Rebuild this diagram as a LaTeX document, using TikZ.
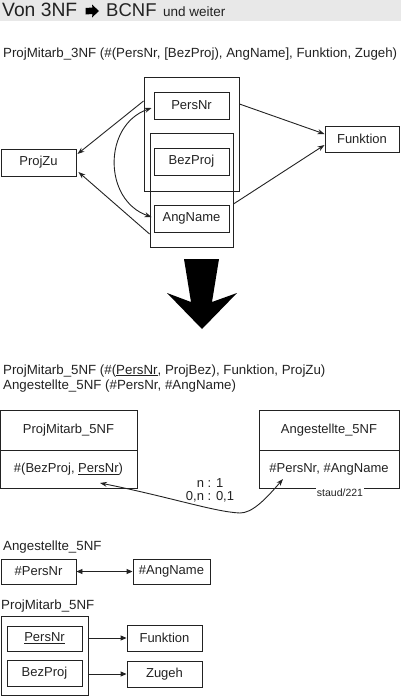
\documentclass[tikz,border=0pt]{standalone}
\usepackage{fontspec}
\setmainfont{Liberation Sans}
\usetikzlibrary{arrows.meta,calc}
\definecolor{ink}{HTML}{222222}
\begin{document}
\begin{tikzpicture}[x=1pt,y=-1pt,
  every node/.style={text=ink},
  txt/.style={font=\fontsize{13.3}{15}\selectfont, inner sep=0pt, anchor=base west},
  box/.style={draw=ink, line width=0.9pt, inner sep=0pt, font=\fontsize{13}{15}\selectfont},
  grp/.style={draw=ink, line width=0.9pt, inner sep=0pt},
  conn/.style={draw=ink, line width=0.9pt, -{Stealth[length=7pt,width=5pt]}},
  tconn/.style={draw=ink, line width=0.9pt, -{Triangle[length=6pt,width=5pt]}}]
\useasboundingbox (0,0) rectangle (401,697);
% header
\fill[gray!18] (0,0) rectangle (401,21);
\node[anchor=base west, inner sep=0pt, font=\fontsize{19.3}{21}\selectfont] (title1) at (2,16.5) {Von 3NF};
\node[anchor=base west, inner sep=0pt, font=\fontsize{18.5}{21}\selectfont] (title2) at (106,16.5) {BCNF};
\node[anchor=base west, inner sep=0pt, font=\fontsize{13.5}{15}\selectfont] (title3) at (163,16.5) {und weiter};
\fill[black] (85.5,8) -- (92.5,7.5) -- (92,4.5) -- (99,11) -- (92,17.5) -- (92.5,14) -- (85.5,14.5) -- cycle;
\node[txt] (l3nf) at (3,57) {ProjMitarb\_3NF (\#(PersNr, [BezProj), AngName], Funktion, Zugeh)};
% top diagram
\node[grp, minimum width=95pt, minimum height=114pt] (g1) at (191.5,134) {};
\node[grp, minimum width=83pt, minimum height=114pt] (g2) at (191.5,190) {};
\node[box, minimum width=75pt, minimum height=27pt] (persnr) at (191.5,105.5) {PersNr};
\node[box, minimum width=75pt, minimum height=27pt] (bezproj) at (191.5,161.5) {BezProj};
\node[box, minimum width=75pt, minimum height=27pt] (angname) at (191.5,218.5) {AngName};
\node[box, minimum width=75pt, minimum height=27pt] (projzu) at (38.5,162.5) {ProjZu};
\node[box, minimum width=74pt, minimum height=26pt] (funktion) at (362,139) {Funktion};
\draw[conn] ([yshift=33pt]g1.west) -- ([yshift=8.5pt,xshift=1pt]projzu.east);
\draw[conn] ([yshift=-44pt]g2.west) -- ([yshift=-9.5pt,xshift=2pt]projzu.east);
\draw[conn] ([yshift=30pt]g1.east) -- ([yshift=5pt]funktion.west);
\draw[conn] ([yshift=-14pt]g2.east) -- ([yshift=-6pt]funktion.west);
\draw[conn, {Stealth[length=7pt,width=5pt]}-{Stealth[length=7pt,width=5pt]}]
  ([xshift=-2pt,yshift=-2.5pt]persnr.west) .. controls (103,125) and (103,200) .. ([xshift=-2pt,yshift=1.5pt]angname.west);
% big arrow
\fill[black] (184,259) -- (219,259) -- (212,302) -- (237,293) -- (202,329) -- (167,293) -- (191,302) -- cycle;
% 5NF text
\node[txt] (l5a) at (3,374) {ProjMitarb\_5NF (\#(\underline{PersNr}, ProjBez), Funktion, ProjZu)};
\node[txt] (l5b) at (3,389) {Angestellte\_5NF (\#PersNr, \#AngName)};
\node[box, minimum width=137pt, minimum height=40pt] (pmh) at (68.5,430) {ProjMitarb\_5NF};
\node[box, minimum width=137pt, minimum height=38pt] (pmb) at (68.5,469) {\#(BezProj, \underline{PersNr})};
\node[box, minimum width=140pt, minimum height=40pt] (amh) at (329,430) {Angestellte\_5NF};
\node[box, minimum width=140pt, minimum height=38pt] (amb) at (329,469) {\#PersNr, \#AngName};
\node[fill=white, inner sep=1pt, font=\fontsize{10.5}{12}\selectfont] (staud) at (340,493) {staud/221};
\draw[conn, {Stealth[length=7pt,width=5pt]}-{Stealth[length=7pt,width=5pt]}]
  ([xshift=31.5pt,yshift=-14pt]pmb.center) .. controls (170,497) and (215,512) .. (240,513)
  .. controls (252,513) and (265,500) .. ([xshift=-46pt,yshift=-10pt]amb.center);
\node[font=\fontsize{13}{15}\selectfont, inner sep=0pt] (n1) at (210,483) {n : 1};
\node[font=\fontsize{13}{15}\selectfont, inner sep=0pt] (n2) at (210,497) {0,n : 0,1};
% bottom
\node[txt] (la) at (3,550) {Angestellte\_5NF};
\node[box, minimum width=75pt, minimum height=25pt] (apn) at (38.5,571.5) {\#PersNr};
\node[box, minimum width=77pt, minimum height=25pt] (aan) at (171.5,571.5) {\#AngName};
\draw[tconn, {Triangle[length=6pt,width=5pt]}-{Triangle[length=6pt,width=5pt]}] (apn.east) -- (aan.west);
\node[txt] (lp) at (1,609) {ProjMitarb\_5NF};
\node[grp, minimum width=87pt, minimum height=79pt] (pmo) at (44.5,656) {};
\node[box, minimum width=75pt, minimum height=25pt] (pnr) at (44.5,638.5) {\underline{PersNr}};
\node[box, minimum width=75pt, minimum height=26pt] (bzp) at (44.5,673) {BezProj};
\node[box, minimum width=75pt, minimum height=26pt] (fk) at (164.5,638) {Funktion};
\node[box, minimum width=75pt, minimum height=26pt] (zg) at (164.5,674) {Zugeh};
\draw[tconn] (pmo.east |- fk.west) -- (fk.west);
\draw[tconn] (pmo.east |- zg.west) -- (zg.west);
\end{tikzpicture}
\end{document}
